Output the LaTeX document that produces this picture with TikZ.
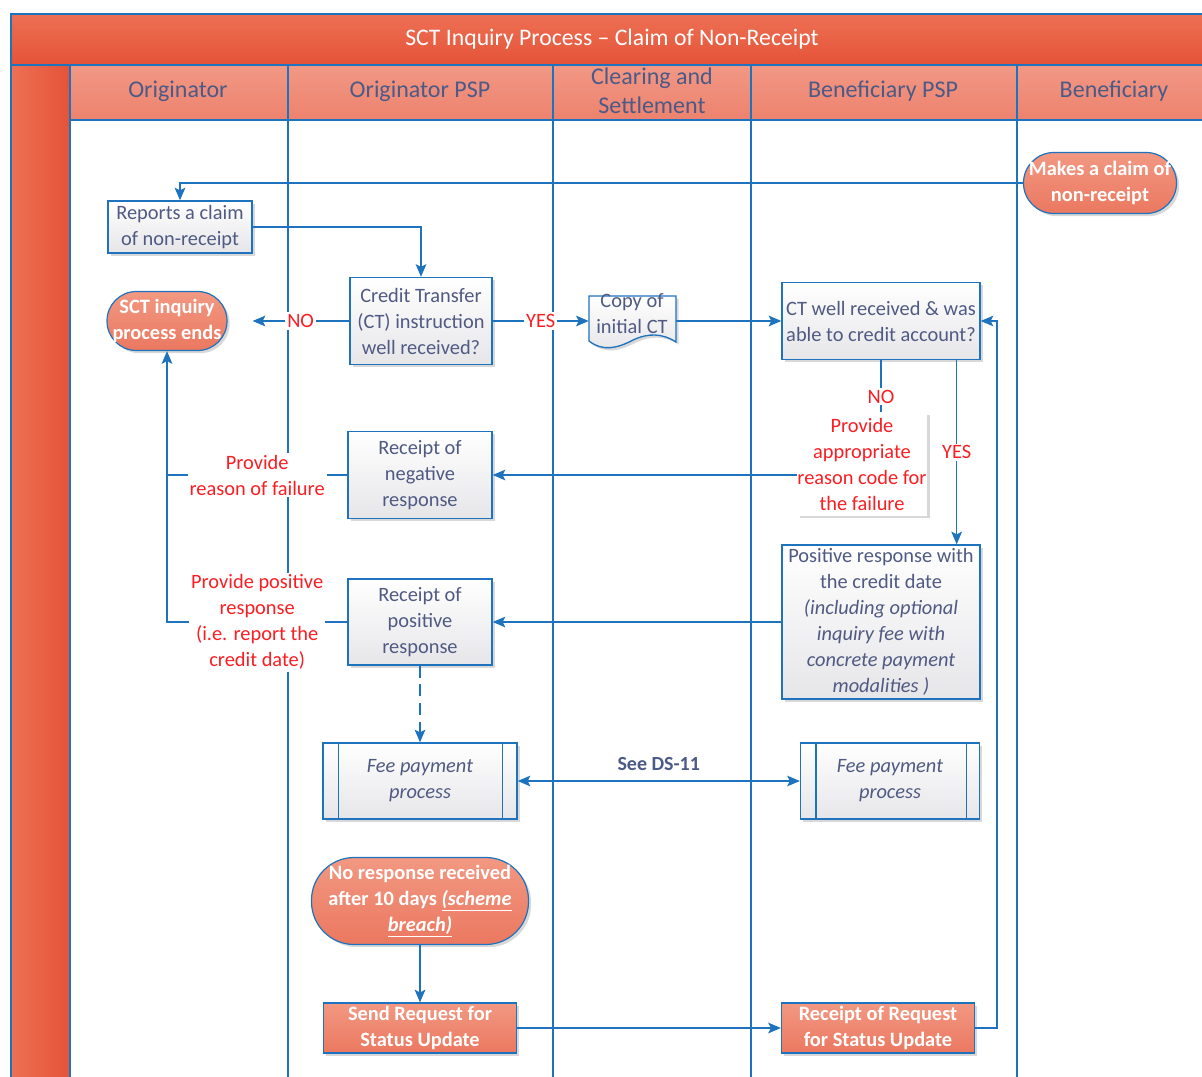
\documentclass[tikz,border=0pt]{standalone}
\usepackage{fontspec}
\setmainfont{Carlito}
\usetikzlibrary{arrows.meta,shadows,calc}
\definecolor{lb}{RGB}{30,115,190}
\definecolor{txt}{RGB}{80,90,130}
\definecolor{hdtxt}{RGB}{75,90,135}
\definecolor{lred}{RGB}{250,30,35}
\definecolor{saltop}{RGB}{242,152,130}
\definecolor{salbot}{RGB}{235,120,96}
\definecolor{tittop}{RGB}{237,112,84}
\definecolor{titbot}{RGB}{229,83,56}
\definecolor{hdtop}{RGB}{241,152,132}
\definecolor{hdbot}{RGB}{237,130,110}
\definecolor{boxbot}{RGB}{230,230,233}
\newcommand{\bxf}{\fontsize{15.3}{19.5}\selectfont}
\newcommand{\hdf}{\fontsize{18}{21.8}\selectfont}
\tikzset{
  arr/.style={-{Stealth[length=9.5pt,width=8pt,inset=2pt]}},
  conn/.style={draw=lb, line width=1.1pt},
  shad/.style={drop shadow={shadow xshift=2pt,shadow yshift=-2pt,fill=black!30,opacity=0.5}},
  procbox/.style={draw=lb, line width=1pt, top color=white, bottom color=boxbot, text=txt,
    font=\bxf, align=center, inner sep=0pt, shad},
  salbox/.style={draw=lb, line width=0.9pt, top color=saltop, bottom color=salbot, text=white,
    font=\bxf\bfseries, align=center, inner sep=0pt, shad},
  lbl/.style={fill=white, text=lred, font=\bxf, align=center, inner sep=1.5pt},
  hdr/.style={text=hdtxt, font=\hdf, align=center},
}
\begin{document}
\begin{tikzpicture}[x=0.75pt,y=-0.75pt]
\useasboundingbox (0,0) rectangle (1202,1077);
% backgrounds
\shade[top color=tittop,bottom color=titbot] (11,14) rectangle (1202,65);
\shade[left color=tittop,right color=titbot] (11,65) rectangle (70,1077);
\shade[top color=hdtop,bottom color=hdbot] (70,65) rectangle (1202,120);
\node[text=white, font=\fontsize{17.8}{21}\selectfont] (title) at (612,39) {SCT Inquiry Process -- Claim of Non-Receipt};
% frame and lanes
\draw[lb, line width=1pt] (11,1077) -- (11,14) -- (1202,14);
\draw[lb, line width=1pt] (11,65) -- (1202,65);
\draw[lb, line width=1pt] (70,120) -- (1202,120);
\foreach \xx in {70,288,553,751,1017}{\draw[lb, line width=1pt] (\xx,65) -- (\xx,1077);}
\node[hdr] (h1) at (178,91) {Originator};
\node[hdr] (h2) at (420,91) {Originator PSP};
\node[hdr] (h3) at (652,91) {Clearing and\\Settlement};
\node[hdr] (h4) at (883,91) {Beneficiary PSP};
\node[hdr] (h5) at (1114,91) {Beneficiary};
% nodes
\node[salbox, minimum width=153*0.75pt, minimum height=61*0.75pt, rounded corners=22.8pt] (claim) at (1100,183) {Makes a claim of\\non-receipt};
\node[procbox, minimum width=144*0.75pt, minimum height=52*0.75pt] (reports) at (180,227) {Reports a claim\\of non-receipt};
\node[procbox, minimum width=142*0.75pt, minimum height=87*0.75pt] (ct) at (421,321) {Credit Transfer\\(CT) instruction\\well received?};
\node[salbox, minimum width=120*0.75pt, minimum height=59*0.75pt, rounded corners=22pt] (sct) at (167,321) {SCT inquiry\\process ends};
\node[minimum width=87*0.75pt, minimum height=50*0.75pt, inner sep=0pt] (copy) at (632.5,321) {};
\shade[draw=lb, line width=1pt, top color=white, bottom color=boxbot, drop shadow={shadow xshift=2pt,shadow yshift=-2pt,fill=black!30,opacity=0.5}]
  (589,296) -- (676,296) -- (676,342) .. controls (662,333) and (648,333) .. (633,340)
  .. controls (618,348) and (603,352) .. (589,341) -- cycle;
\node[text=txt, font=\bxf, align=center, inner sep=0pt] (copytext) at (632,314) {Copy of\\initial CT};
\node[procbox, minimum width=198*0.75pt, minimum height=77*0.75pt] (ctwell) at (881,321) {CT well received \& was\\able to credit account?};
\node[fill=white, text=lred, font=\bxf, align=center, inner sep=0pt, minimum width=130*0.75pt, minimum height=103*0.75pt, shad] (reason) at (862,464) {Provide\\appropriate\\reason code for\\the failure};
\node[procbox, minimum width=144*0.75pt, minimum height=87*0.75pt] (negresp) at (420,475) {Receipt of\\negative\\response};
\node[procbox, minimum width=198*0.75pt, minimum height=154*0.75pt] (posbox) at (881,622) {Positive response with\\the credit date\\\textit{(including optional}\\\textit{inquiry fee with}\\\textit{concrete payment}\\\textit{modalities )}};
\node[procbox, minimum width=144*0.75pt, minimum height=86*0.75pt] (posresp) at (420,622) {Receipt of\\positive\\response};
\node[procbox, minimum width=194*0.75pt, minimum height=76*0.75pt] (fee1) at (420,781) {\textit{Fee payment}\\\textit{process}};
\node[procbox, minimum width=179*0.75pt, minimum height=76*0.75pt] (fee2) at (890,781) {\textit{Fee payment}\\\textit{process}};
\draw[lb, line width=1pt] ($(fee1.north west)+(16,0)$) -- ($(fee1.south west)+(16,0)$);
\draw[lb, line width=1pt] ($(fee1.north east)+(-15,0)$) -- ($(fee1.south east)+(-15,0)$);
\draw[lb, line width=1pt] ($(fee2.north west)+(16,0)$) -- ($(fee2.south west)+(16,0)$);
\draw[lb, line width=1pt] ($(fee2.north east)+(-14,0)$) -- ($(fee2.south east)+(-14,0)$);
\node[salbox, minimum width=217*0.75pt, minimum height=87*0.75pt, rounded corners=32pt] (noresp) at (420,901) {No response received\\after 10 days \underline{\textit{(scheme}}\\\underline{\textit{breach)}}};
\node[salbox, minimum width=193*0.75pt, minimum height=50*0.75pt] (send) at (420,1028) {Send Request for\\Status Update};
\node[salbox, minimum width=193*0.75pt, minimum height=50*0.75pt] (rreq) at (878,1028) {Receipt of Request\\for Status Update};
% connectors
\draw[conn, arr] (claim.west) -| (reports.north);
\draw[conn, arr] (reports.east) -| (ct.north);
\draw[conn, arr, shorten >=18.75pt] (ct.west) -- node[lbl, pos=0.4] {NO} (sct.east);
\draw[conn, arr] (ct.east) -- node[lbl] {YES} (copy.west);
\draw[conn, arr] (copy.east) -- (ctwell.west);
\draw[conn] (ctwell.south) -- node[lbl, pos=0.7] {NO} (ctwell.south |- reason.north);
\draw[conn, arr] (reason.west |- negresp.east) -- (negresp.east);
\draw[conn, arr] ($(ctwell.south east)+(-24,0)$) -- node[lbl] {YES} ($(posbox.north east)+(-24,0)$);
\draw[conn, arr] (posbox.west) -- (posresp.east);
\draw[conn] (negresp.west) -- node[lbl] {Provide\\reason of failure} (negresp.west -| sct.south);
\draw[conn, arr] (posresp.west) -- node[lbl] {Provide positive\\response\\(i.e. report the\\credit date)} (posresp.west -| sct.south) -- (sct.south);
\draw[conn, arr, dash pattern=on 9pt off 5pt] (posresp.south) -- (fee1.north);
\draw[conn, {Stealth[length=9.5pt,width=8pt,inset=2pt]}-{Stealth[length=9.5pt,width=8pt,inset=2pt]}] (fee1.east) -- node[above=4pt, text=hdtxt, font=\fontsize{15}{17}\selectfont\bfseries] (ds) {See DS-11} (fee2.west);
\draw[conn, arr] (noresp.south) -- (send.north);
\draw[conn, arr] (send.east) -- (rreq.west);
\draw[conn, arr] (rreq.east) -- ++(22,0) |- (ctwell.east);
\end{tikzpicture}
\end{document}
